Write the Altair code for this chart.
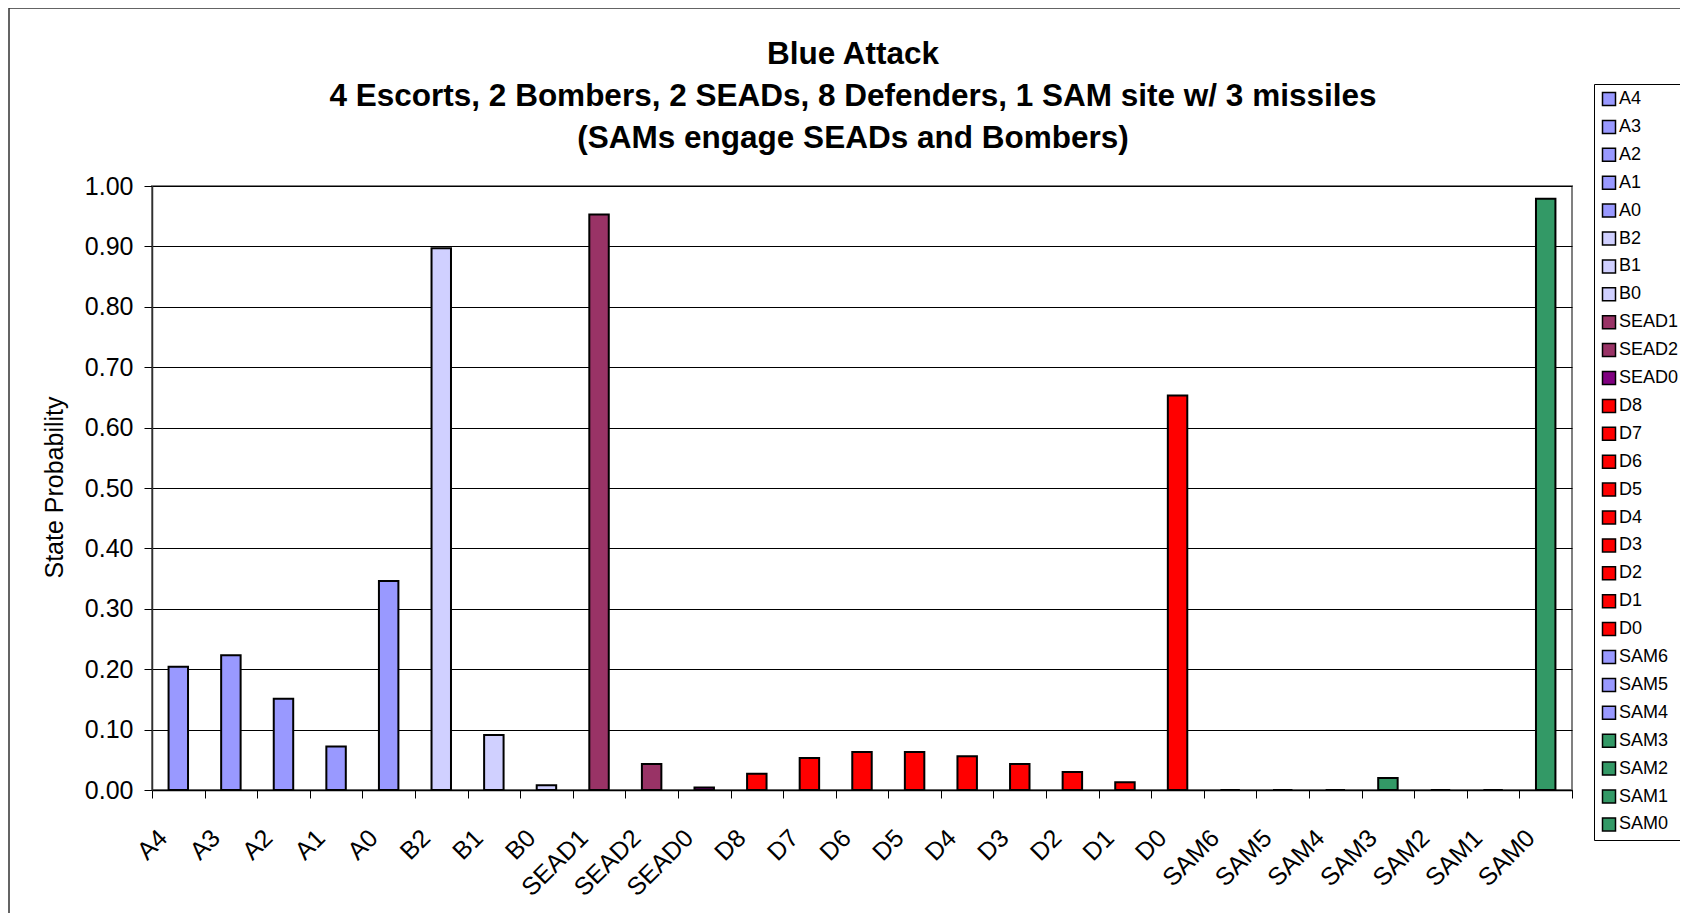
import altair as alt
import pandas as pd

categories = ["A4", "A3", "A2", "A1", "A0", "B2", "B1", "B0",
              "SEAD1", "SEAD2", "SEAD0",
              "D8", "D7", "D6", "D5", "D4", "D3", "D2", "D1", "D0",
              "SAM6", "SAM5", "SAM4", "SAM3", "SAM2", "SAM1", "SAM0"]
probabilities = [0.204, 0.223, 0.151, 0.072, 0.346, 0.897, 0.091, 0.008,
                 0.953, 0.043, 0.004,
                 0.027, 0.053, 0.063, 0.063, 0.056, 0.043, 0.030, 0.013, 0.653,
                 0.0, 0.0, 0.0, 0.020, 0.0, 0.0, 0.979]
bar_colors = ["#9999FF", "#9999FF", "#9999FF", "#9999FF", "#9999FF",
              "#D0D0FF", "#D0D0FF", "#D0D0FF",
              "#993366", "#993366", "#800080",
              "#FF0000", "#FF0000", "#FF0000", "#FF0000", "#FF0000",
              "#FF0000", "#FF0000", "#FF0000", "#FF0000",
              "#9999FF", "#9999FF", "#9999FF",
              "#339966", "#339966", "#339966", "#339966"]
title_lines = ["Blue Attack",
               "4 Escorts, 2 Bombers, 2 SEADs, 8 Defenders, 1 SAM site w/ 3 missiles",
               "(SAMs engage SEADs and Bombers)"]
y_ticks = [0.0, 0.1, 0.2, 0.3, 0.4, 0.5, 0.6, 0.7, 0.8, 0.9, 1.0]
y_title = "State Probability"

FONT = "Liberation Sans"

df = pd.DataFrame({"state": categories, "prob": probabilities})
dummy = pd.DataFrame({"k": [0]})

bars = alt.Chart(df).mark_bar(
    stroke="black", strokeWidth=2, width=alt.RelativeBandSize(0.37)
).encode(
    x=alt.X("state:N", sort=categories,
            scale=alt.Scale(paddingInner=0, paddingOuter=0),
            axis=alt.Axis(title=None, labelAngle=315, labelAlign="right",
                          labelBaseline="top", labelOffset=-24, labelPadding=27,
                          labelFontSize=25, labelColor="black", labelFont=FONT,
                          tickBand="extent", tickSize=8, tickColor="black",
                          domainColor="black", domainWidth=1.5, grid=False,
                          labelOverlap=False)),
    y=alt.Y("prob:Q", scale=alt.Scale(domain=[0, 1], nice=False),
            axis=alt.Axis(values=y_ticks, format=".2f", title=y_title,
                          titleFontSize=25, titleFontWeight="normal",
                          titleFont=FONT, titleColor="black",
                          titleAngle=270, titleX=-90, titleY=301,
                          titleAlign="center", titleBaseline="alphabetic",
                          labelFontSize=25, labelColor="black", labelFont=FONT,
                          labelPadding=11, tickSize=8, tickColor="black",
                          domainColor="#303030", domainWidth=1.5,
                          grid=True, gridColor="black", gridWidth=1)),
    color=alt.Color("state:N", sort=categories,
                    scale=alt.Scale(domain=categories, range=bar_colors),
                    legend=alt.Legend(title=None, orient="none",
                                      legendX=1442, legendY=-102,
                                      padding=6, rowPadding=7.9,
                                      symbolType="square", symbolSize=169,
                                      symbolStrokeColor="black",
                                      symbolStrokeWidth=1.5,
                                      symbolOpacity=1,
                                      labelFontSize=18, labelFont=FONT,
                                      labelColor="black", labelOffset=1,
                                      strokeColor="black", fillColor="white"))
)

title = alt.Chart(dummy).mark_text(
    font=FONT, fontSize=31.5, fontWeight="bold", align="center",
    baseline="alphabetic", lineHeight=42, color="black"
).encode(x=alt.value(701), y=alt.value(-122), text=alt.value(title_lines))

border_left = alt.Chart(dummy).mark_rule(color="#303030", strokeWidth=1.5).encode(
    x=alt.value(-143), y=alt.value(-178), y2=alt.value(727))
border_top = alt.Chart(dummy).mark_rule(color="#303030", strokeWidth=1.5).encode(
    x=alt.value(-143), x2=alt.value(1528), y=alt.value(-178))

chart = alt.layer(bars, title, border_left, border_top).properties(
    width=1420, height=604,
    padding={"left": 144, "top": 178, "right": 108, "bottom": 123},
    autosize=alt.AutoSizeParams(type="none"),
).configure(font=FONT).configure_view(stroke="#808080", strokeWidth=2)

chart.save("out.html", embed_options={"renderer": "svg", "actions": False})
